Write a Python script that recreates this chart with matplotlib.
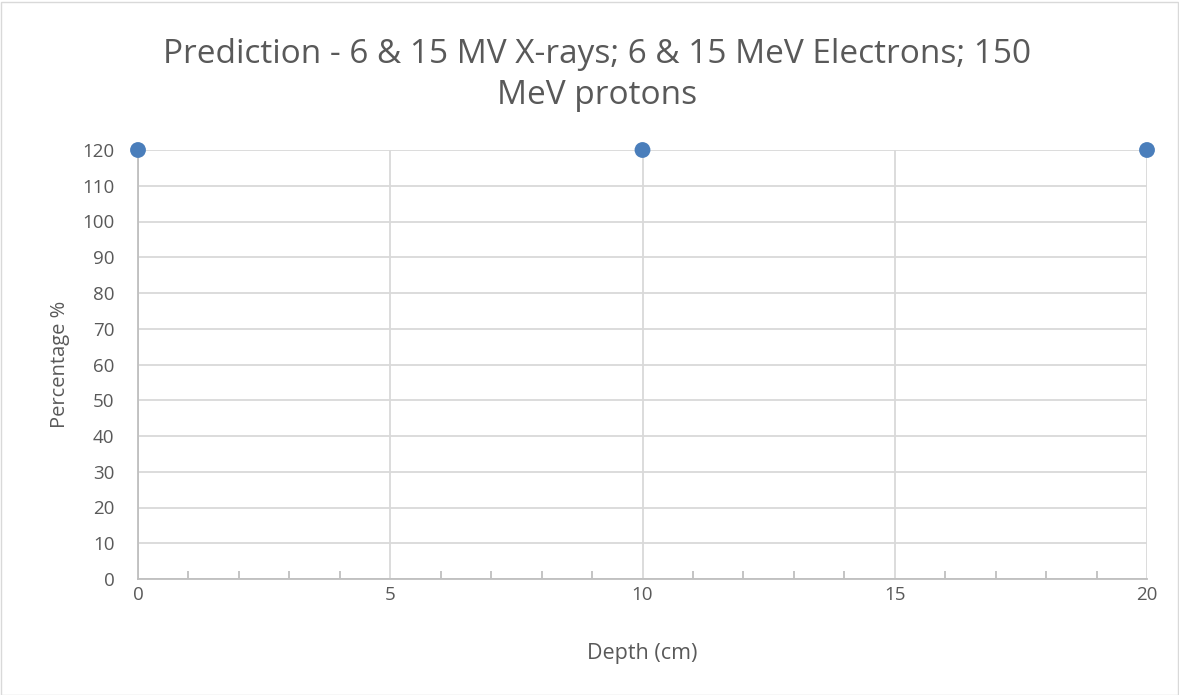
import matplotlib
matplotlib.use("Agg")
import matplotlib.pyplot as plt
from matplotlib.ticker import MultipleLocator
from matplotlib.patches import Rectangle

depth = [0, 10, 20]
percentage = [120, 120, 120]
title = "Prediction - 6 & 15 MV X-rays; 6 & 15 MeV Electrons; 150\nMeV protons"
xlabel = "Depth (cm)"
ylabel = "Percentage %"

plt.rcParams['font.family'] = ['Open Sans', 'DejaVu Sans']
txt = '#595959'
grid = '#d9d9d9'
axc = '#bfbfbf'

fig = plt.figure(figsize=(11.79, 6.95), dpi=100)
fig.patches.append(Rectangle((0.5/1179, 0.5/695), 1 - 2/1179, 1 - 2/695, transform=fig.transFigure,
                             fill=False, edgecolor='#d9d9d9', linewidth=1))
ax = fig.add_axes([138/1179, 1 - 579/695, (1147-138)/1179, (579-150)/695])

ax.scatter(depth, percentage, s=130, color='#4A7EBB', zorder=5, clip_on=False, edgecolors='none')

ax.set_xlim(0, 20)
ax.set_ylim(0, 120)
ax.xaxis.set_major_locator(MultipleLocator(5))
ax.xaxis.set_minor_locator(MultipleLocator(1))
ax.yaxis.set_major_locator(MultipleLocator(10))
ax.grid(True, which='major', color=grid, linewidth=1.3)
ax.set_axisbelow(True)
for s in ['top', 'right']:
    ax.spines[s].set_visible(False)
for s in ['left', 'bottom']:
    ax.spines[s].set_color(axc)
    ax.spines[s].set_linewidth(1.3)
ax.tick_params(axis='x', which='major', length=0, pad=5, labelsize=13.5, labelcolor=txt)
ax.tick_params(axis='x', which='minor', direction='in', length=6, color=axc, width=1.3)
ax.tick_params(axis='y', which='major', direction='in', length=0, pad=17, labelsize=13.5, labelcolor=txt)

ax.set_xlabel(xlabel, fontsize=15.5, color=txt, labelpad=28)
ax.set_ylabel(ylabel, fontsize=14.5, color=txt, labelpad=9)
fig.text(597/1179, 1 - 75/695, title, ha='center', va='center', fontsize=24, color=txt, linespacing=1.35)

fig.savefig("out.png", dpi=100)
